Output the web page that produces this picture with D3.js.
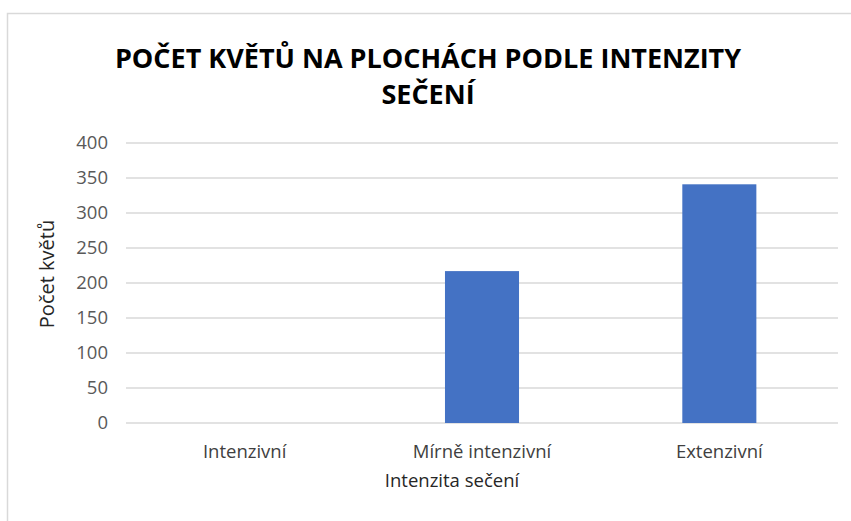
<!DOCTYPE html>
<html>
<head>
<meta charset="utf-8">
<script src="https://cdn.jsdelivr.net/npm/d3@7"></script>
<style>
  body { margin: 0; background: #fff; }
  svg { display: block; font-family: "Open Sans", "Liberation Sans", sans-serif; }
</style>
</head>
<body>
<div id="chart"></div>
<script>
"use strict";

const titleLines = ["POČET KVĚTŮ NA PLOCHÁCH PODLE INTENZITY", "SEČENÍ"];
const categories = ["Intenzivní", "Mírně intenzivní", "Extenzivní"];
const counts = [0, 217, 341];
const yTicks = [0, 50, 100, 150, 200, 250, 300, 350, 400];

const w = 851;
const h = 521;
const margin = { top: 143, right: 13, bottom: 98, left: 126 };
const innerW = w - margin.left - margin.right;
const innerH = h - margin.top - margin.bottom;

const svg = d3.select("#chart").append("svg").attr("width", w).attr("height", h);

// chart frame (right and bottom edges run off the picture)
svg.append("rect")
  .attr("x", 7.5).attr("y", 13.5)
  .attr("width", 900).attr("height", 600)
  .attr("fill", "none").attr("stroke", "#d9d9d9").attr("stroke-width", 1.5);

const x = d3.scaleBand().domain(categories).range([0, innerW]).paddingInner(0.688).paddingOuter(0.344);
const y = d3.scaleLinear().domain([0, 400]).range([innerH, 0]);

const g = svg.append("g").attr("transform", `translate(${margin.left}, ${margin.top})`);

// gridlines
g.selectAll("line.grid")
  .data(yTicks)
  .enter()
  .append("line")
  .attr("class", "grid")
  .attr("x1", 0).attr("x2", innerW)
  .attr("y1", (d) => y(d)).attr("y2", (d) => y(d))
  .attr("stroke", "#d9d9d9").attr("stroke-width", 1.3);

// y tick labels
g.selectAll("text.ytick")
  .data(yTicks)
  .enter()
  .append("text")
  .attr("class", "ytick")
  .attr("x", -18)
  .attr("y", (d) => y(d))
  .attr("dy", "0.35em")
  .attr("text-anchor", "end")
  .attr("font-size", 18.5)
  .attr("fill", "#595959")
  .text((d) => d);

// bars
g.selectAll("rect.bar")
  .data(counts)
  .enter()
  .append("rect")
  .attr("class", "bar")
  .attr("x", (d, i) => x(categories[i]))
  .attr("y", (d) => y(d))
  .attr("width", x.bandwidth())
  .attr("height", (d) => innerH - y(d))
  .attr("fill", "#4472c4");

// category labels
g.selectAll("text.xtick")
  .data(categories)
  .enter()
  .append("text")
  .attr("class", "xtick")
  .attr("x", (d) => x(d) + x.bandwidth() / 2)
  .attr("y", innerH + 35)
  .attr("text-anchor", "middle")
  .attr("font-size", 18.5)
  .attr("fill", "#404040")
  .text((d) => d);

// axis titles
svg.append("text")
  .attr("x", 452)
  .attr("y", 487)
  .attr("text-anchor", "middle")
  .attr("font-size", 18.5)
  .attr("fill", "#262626")
  .text("Intenzita sečení");

svg.append("text")
  .attr("transform", `translate(54, 274) rotate(-90)`)
  .attr("text-anchor", "middle")
  .attr("font-size", 20)
  .attr("fill", "#262626")
  .text("Počet květů");

// title
svg.selectAll("text.title")
  .data(titleLines)
  .enter()
  .append("text")
  .attr("class", "title")
  .attr("x", 428)
  .attr("y", (d, i) => 68 + i * 36)
  .attr("text-anchor", "middle")
  .attr("font-size", 27)
  .attr("font-weight", "bold")
  .attr("fill", "#000")
  .text((d) => d);
</script>
</body>
</html>
